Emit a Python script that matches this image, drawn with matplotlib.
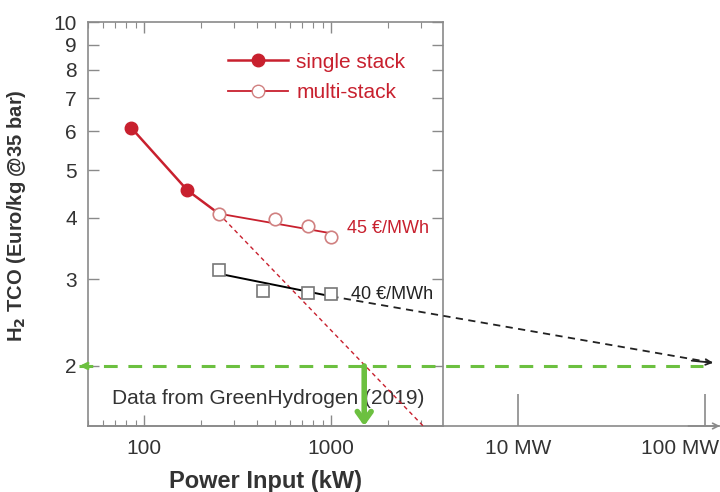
import matplotlib
matplotlib.use('Agg')
import matplotlib.pyplot as plt
import matplotlib.transforms as mtransforms
from matplotlib.ticker import FixedLocator, FixedFormatter, NullLocator, LogLocator

plt.rcParams['font.family'] = ['Liberation Sans', 'DejaVu Sans']

# data (kW, Euro/kg)
single_x = [85, 170, 250]
single_y = [6.1, 4.55, 4.08]
multi_x = [250, 500, 750, 1000]
multi_y = [4.08, 3.98, 3.85, 3.66]
multi_fit_x = [250, 1000]
multi_fit_y = [4.08, 3.72]
single_extrap_x = [250, 3100]
single_extrap_y = [4.08, 1.51]
e40_x = [250, 430, 750, 1000]
e40_y = [3.13, 2.84, 2.81, 2.80]
e40_fit_x = [250, 1000]
e40_fit_y = [3.08, 2.77]
e40_extrap_x = [1000, 1.1e5]
e40_extrap_y = [2.77, 2.03]
target_y = 2.0
target_x = [45, 9.7e4]
cross_x = 1500
yticks = [2, 3, 4, 5, 6, 7, 8, 9, 10]
xticks_box = [100, 1000]
xticks_mw = [1e4, 1e5]
xticklabels_mw = ['10 MW', '100 MW']

red = '#c8202e'
green = '#6cc040'
gray = '#8a8a8a'
txt = '#333333'

W, H = 720, 492
fig = plt.figure(figsize=(W / 100, H / 100), dpi=100)

left, right_box, right_full, top, bottom = 88, 443, 720, 22, 426
ylo, yhi = 1.51, 10
xlo = 50
px_per_dec = 187
xhi_full = 10 ** (1.699 + (right_full - left) / px_per_dec)
xhi_box = 10 ** (1.699 + (right_box - left) / px_per_dec)

ax_box = fig.add_axes([left / W, (H - bottom) / H, (right_box - left) / W, (bottom - top) / H])
ax = fig.add_axes([left / W, (H - bottom) / H, (right_full - left) / W, (bottom - top) / H])

# boxed axes: frame, ticks, labels
ax_box.set_xscale('log')
ax_box.set_yscale('log')
ax_box.set_xlim(xlo, xhi_box)
ax_box.set_ylim(ylo, yhi)
for s in ax_box.spines.values():
    s.set_color(gray)
    s.set_linewidth(1.2)
ax_box.xaxis.set_major_locator(FixedLocator(xticks_box))
ax_box.xaxis.set_major_formatter(FixedFormatter([str(v) for v in xticks_box]))
ax_box.xaxis.set_minor_locator(LogLocator(subs=range(2, 10)))
ax_box.xaxis.set_minor_formatter(FixedFormatter([]))
ax_box.yaxis.set_major_locator(FixedLocator(yticks))
ax_box.yaxis.set_major_formatter(FixedFormatter([str(v) for v in yticks]))
ax_box.yaxis.set_minor_locator(NullLocator())
ax_box.tick_params(which='both', direction='in', top=True, right=True, color=gray,
                   labelsize=15, labelcolor=txt)
ax_box.tick_params(which='major', length=8, width=1)
ax_box.tick_params(which='minor', length=4, width=0.8)
ax_box.tick_params(axis='x', pad=9)
ax_box.tick_params(axis='y', pad=8)
ax_box.set_xlabel('Power Input (kW)', fontsize=17, fontweight='bold', color=txt, labelpad=9)
ax_box.set_ylabel(r'H$_\mathbf{2}$ TCO (Euro/kg @35 bar)', fontsize=14.5, fontweight='bold', color=txt)
ax_box.yaxis.set_label_coords(-0.17, 0.52)

# wide axes for the data and the extended power axis
ax.set_xscale('log')
ax.set_yscale('log')
ax.set_xlim(xlo, xhi_full)
ax.set_ylim(ylo, yhi)
ax.patch.set_alpha(0)
for k in ['top', 'right', 'left']:
    ax.spines[k].set_visible(False)
ax.spines['bottom'].set_color(gray)
ax.spines['bottom'].set_linewidth(1.2)
ax.xaxis.set_major_locator(FixedLocator(xticks_mw))
ax.xaxis.set_major_formatter(FixedFormatter(xticklabels_mw))
ax.xaxis.set_minor_locator(NullLocator())
ax.yaxis.set_major_locator(NullLocator())
ax.yaxis.set_minor_locator(NullLocator())
ax.tick_params(axis='x', direction='in', length=23, width=1.2, color=gray,
               labelsize=15, labelcolor=txt, pad=9)
# keep the last label inside the figure
lab = ax.get_xticklabels()[-1]
lab.set_transform(lab.get_transform() + mtransforms.ScaledTranslation(-0.25, 0, fig.dpi_scale_trans))
ax.annotate('', xy=(1.0, 0), xytext=(0.95, 0), xycoords='axes fraction',
            arrowprops=dict(arrowstyle='->', color=gray, lw=1.2, shrinkA=0, shrinkB=0),
            annotation_clip=False)

# green target line and arrow
ax.plot(target_x, [target_y] * 2, color=green, lw=2.2, dashes=(4.5, 3.5), clip_on=False, zorder=2)
ax.annotate('', xy=(target_x[0], target_y), xytext=(target_x[0] * 1.12, target_y),
            arrowprops=dict(arrowstyle='->', color=green, lw=2, shrinkA=0, shrinkB=0),
            annotation_clip=False)

ax.text(67, 1.72, 'Data from GreenHydrogen (2019)', fontsize=15, color=txt, va='center', zorder=1)

# red single / multi-stack
ax.plot(single_extrap_x, single_extrap_y, color=red, lw=1, dashes=(3, 2.5), zorder=3)
ax.plot(single_x, single_y, color=red, lw=1.8, marker='o', ms=9, markevery=[0, 1], zorder=4)
ax.plot(multi_fit_x, multi_fit_y, color=red, lw=1.3, zorder=4)
ax.plot(multi_x, multi_y, ls='none', marker='o', ms=9, mfc='white', mec='#d08080',
        mew=1.2, zorder=5)
ax.text(1213, 3.81, '45 €/MWh', fontsize=13, color=red, va='center')

# black 40 EUR/MWh
ax.plot(e40_fit_x, e40_fit_y, color='black', lw=1.4, zorder=4)
ax.plot(e40_extrap_x, e40_extrap_y, color='#222222', lw=1.3, dashes=(4, 3), zorder=3)
ax.annotate('', xy=(e40_extrap_x[1], e40_extrap_y[1]), xytext=(e40_extrap_x[1] / 1.3, 2.05),
            arrowprops=dict(arrowstyle='->', color='#222222', lw=1.3, shrinkA=0, shrinkB=0),
            annotation_clip=False)
ax.plot(e40_x, e40_y, ls='none', marker='s', ms=9, mfc='white', mec='#777777',
        mew=1.2, zorder=5)
ax.text(1274, 2.80, '40 €/MWh', fontsize=13, color='#222222', va='center')

# green drop arrow
ax.annotate('', xy=(cross_x, ylo), xytext=(cross_x, target_y),
            arrowprops=dict(arrowstyle='->,head_length=0.7,head_width=0.5', color=green,
                            lw=4, shrinkA=0, shrinkB=0), zorder=6)

# legend
h1, = ax.plot([], [], color=red, lw=1.8, marker='o', ms=9)
h2, = ax.plot([], [], color=red, lw=1.3, marker='o', ms=9, mfc='white', mec='#d08080')
leg = ax.legend([h1, h2], ['single stack', 'multi-stack'], loc='upper left',
                bbox_to_anchor=(209 / W, 1 - 34 / H), bbox_transform=fig.transFigure,
                frameon=False, fontsize=15, handlelength=2.9, labelspacing=0.55,
                handletextpad=0.4, labelcolor=red)

fig.savefig('out.png', dpi=100)
